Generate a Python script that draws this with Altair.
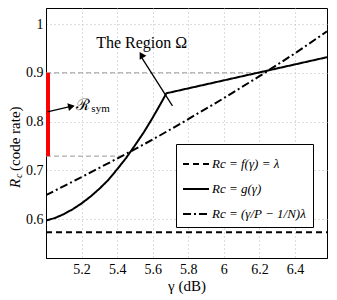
import altair as alt
import pandas as pd

# ---- data ----
gamma_g = [5.0, 5.05, 5.1, 5.15, 5.2, 5.25, 5.3, 5.35, 5.4, 5.45, 5.5, 5.55, 5.6, 5.65, 5.677, 6.58]
rc_g = [0.597, 0.602, 0.610, 0.620, 0.632, 0.646, 0.662, 0.680, 0.702, 0.725, 0.751, 0.778, 0.808, 0.840, 0.858, 0.932]

gamma_h = [5.0, 5.2, 5.4, 5.6, 5.8, 6.0, 6.2, 6.4, 6.58]
rc_h = [0.649, 0.686, 0.724, 0.763, 0.805, 0.848, 0.893, 0.940, 0.985]

gamma_f = [5.0, 6.58]
rc_f = [0.573, 0.573]

series = ["Rc = f(γ) = λ", "Rc = g(γ)", "Rc = (γ/P − 1/N)λ"]

x_ticks = [5.2, 5.4, 5.6, 5.8, 6.0, 6.2, 6.4]
y_ticks = [0.6, 0.7, 0.8, 0.9, 1.0]

rsym_low, rsym_high = 0.729, 0.9
cross_low_gamma, cross_high_gamma = 5.46, 6.24

X_DOM = [5.0, 6.58]
Y_DOM = [0.52, 1.033]
FONT = "Liberation Serif"

rows = []
for g, r in zip(gamma_f, rc_f):
    rows.append({"gamma": g, "rc": r, "s": series[0]})
for g, r in zip(gamma_g, rc_g):
    rows.append({"gamma": g, "rc": r, "s": series[1]})
for g, r in zip(gamma_h, rc_h):
    rows.append({"gamma": g, "rc": r, "s": series[2]})
df = pd.DataFrame(rows)

xs = alt.Scale(domain=X_DOM, nice=False, zero=False)
ys = alt.Scale(domain=Y_DOM, nice=False, zero=False)

X = alt.X("gamma:Q", scale=xs, axis=alt.Axis(values=x_ticks, format="~g", title="γ (dB)",
                                             grid=True, ticks=False, labelPadding=4,
                                             titlePadding=2))
Y = alt.Y("rc:Q", scale=ys, axis=alt.Axis(values=y_ticks, format="~g", title=None,
                                          grid=True, ticks=False, labelPadding=3))

lines = alt.Chart(df).mark_line(strokeWidth=2, color="black", clip=True).encode(
    x=X, y=Y,
    strokeDash=alt.StrokeDash("s:N", scale=alt.Scale(domain=series,
                              range=[[6, 4], [1, 0], [8, 3, 2, 3]]),
                              sort=series,
                              legend=alt.Legend(title=None, orient="none", legendX=130, legendY=136,
                                                fillColor="white", strokeColor="black", padding=6,
                                                symbolType="stroke", symbolSize=676,
                                                symbolStrokeWidth=2, symbolStrokeColor="black",
                                                labelFont=FONT, labelFontSize=13,
                                                labelFontStyle="italic", rowPadding=4,
                                                labelOffset=2, labelLimit=200)),
    detail="s:N",
)

guides = pd.DataFrame({"gamma": [X_DOM[0], X_DOM[0]], "g2": [cross_high_gamma, cross_low_gamma],
                       "rc": [rsym_high, rsym_low]})
guide_rules = alt.Chart(guides).mark_rule(color="#999999", strokeWidth=1, strokeDash=[5, 3]).encode(
    x=alt.X("gamma:Q", scale=xs), x2="g2:Q", y=alt.Y("rc:Q", scale=ys))

bar_df = pd.DataFrame({"gamma": [X_DOM[0]], "lo": [rsym_low], "hi": [rsym_high]})
red_bar = alt.Chart(bar_df).mark_rule(color="red", strokeWidth=4, xOffset=2).encode(
    x=alt.X("gamma:Q", scale=xs), y=alt.Y("lo:Q", scale=ys), y2="hi:Q")

arrows = pd.DataFrame({
    "x1": [5.711, 5.008], "y1": [0.832, 0.820],
    "x2": [5.540, 5.140], "y2": [0.930, 0.831],
})
arrow_lines = alt.Chart(arrows).mark_rule(color="black", strokeWidth=1.3).encode(
    x=alt.X("x1:Q", scale=xs), y=alt.Y("y1:Q", scale=ys), x2="x2:Q", y2="y2:Q")
heads = pd.DataFrame({"x": [5.536, 5.143], "y": [0.937, 0.831], "ang": [329, 78]})
arrow_heads = alt.Chart(heads).mark_point(shape="triangle-up", filled=True, color="black",
                                          size=60, opacity=1).encode(
    x=alt.X("x:Q", scale=xs), y=alt.Y("y:Q", scale=ys), angle=alt.Angle("ang:Q", scale=None))

txt = pd.DataFrame({"x": [5.538], "y": [0.961], "t": ["The Region Ω"]})
region_text = alt.Chart(txt).mark_text(font=FONT, fontSize=16, color="black").encode(
    x=alt.X("x:Q", scale=xs), y=alt.Y("y:Q", scale=ys), text="t:N")

rs = pd.DataFrame({"x": [5.17, 5.255], "y": [0.834, 0.826], "t": ["ℛ", "sym"], "fs": [16, 11]})
rsym_text = alt.Chart(rs).mark_text(font=FONT, color="black", align="left").encode(
    x=alt.X("x:Q", scale=xs), y=alt.Y("y:Q", scale=ys), text="t:N",
    size=alt.Size("fs:Q", scale=None, legend=None))

# y axis title with italic R and subscript c
ytitle_r = alt.Chart(pd.DataFrame({"t": ["R"]})).mark_text(
    font=FONT, fontSize=15, fontStyle="italic", angle=270, align="left", baseline="middle",
    color="black").encode(text="t:N", x=alt.value(-31), y=alt.value(180))
ytitle_c = alt.Chart(pd.DataFrame({"t": ["c"]})).mark_text(
    font=FONT, fontSize=10, fontStyle="italic", angle=270, align="left", baseline="middle",
    color="black").encode(text="t:N", x=alt.value(-27), y=alt.value(170))
ytitle_rest = alt.Chart(pd.DataFrame({"t": ["(code rate)"]})).mark_text(
    font=FONT, fontSize=15, angle=270, align="left", baseline="middle",
    color="black").encode(text="t:N", x=alt.value(-31), y=alt.value(163))

chart = alt.layer(guide_rules, lines, red_bar, arrow_lines, arrow_heads, region_text, rsym_text,
                  ytitle_r, ytitle_c, ytitle_rest).properties(
    width=281, height=250,
    autosize=alt.AutoSizeParams(type="none"),
    padding={"left": 38, "top": 0, "right": 2, "bottom": 40},
).configure_view(stroke="black", strokeWidth=1).configure_axis(
    labelFont=FONT, labelFontSize=14, labelColor="black", titleFont=FONT, titleFontSize=15,
    titleFontWeight="normal", titleColor="black", domainColor="black", domainWidth=1,
    gridColor="#bbbbbb", gridDash=[1, 3], gridWidth=1, gridOpacity=1,
).configure_axisX(titleFontStyle="normal")

chart.save("out.html", embed_options={"renderer": "svg", "actions": False})
